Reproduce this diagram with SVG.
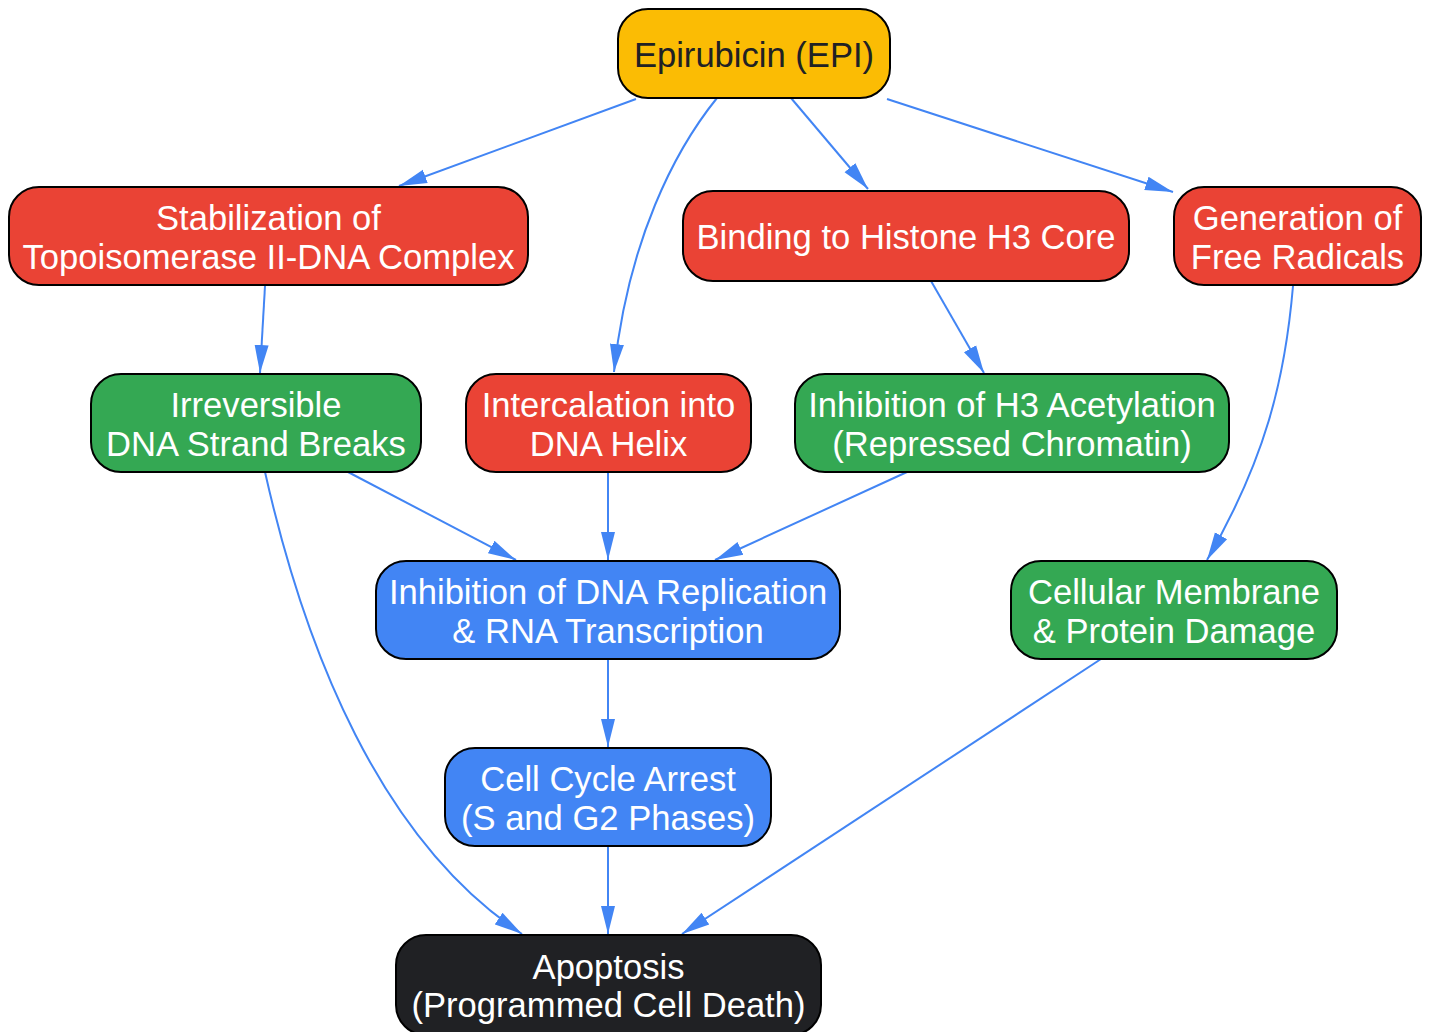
<svg xmlns="http://www.w3.org/2000/svg" width="1430" height="1032" viewBox="0 0 1430 1032">
<style>
.n{stroke:#000;stroke-width:2}
.t{font-family:"Liberation Sans",Arial,sans-serif;font-size:34.6px;text-anchor:middle;fill:#fff}
.dk{fill:#202124}
.e{fill:none;stroke:#4285F4;stroke-width:2;marker-end:url(#ah)}
</style>
<defs>
<marker id="ah" markerUnits="userSpaceOnUse" markerWidth="28" markerHeight="16" refX="28" refY="8" orient="auto">
<path d="M0,1 L28,8 L0,15 z" fill="#4285F4"/>
</marker>
</defs>
<rect width="1430" height="1032" fill="#fff"/>
<g id="connectors">
<path class="e" d="M636,99 L399,186"/>
<path class="e" d="M717,98 C675,150 628,240 614,372"/>
<path class="e" d="M791,98 L868,189"/>
<path class="e" d="M887,99 L1173,192"/>
<path class="e" d="M265,286 L260,373"/>
<path class="e" d="M931,281 L984,373"/>
<path class="e" d="M1293,286 C1285,380 1265,460 1207,560"/>
<path class="e" d="M348,472 L516,560"/>
<path class="e" d="M608,472 L608,560"/>
<path class="e" d="M907,472 L715,560"/>
<path class="e" d="M265,472 C305,650 380,840 522,934"/>
<path class="e" d="M608,659 L608,747"/>
<path class="e" d="M608,846 L608,934"/>
<path class="e" d="M1101,659 L682,934"/>
</g>
<g id="epi">
<rect class="n" x="618" y="9" width="272" height="89" rx="30" fill="#FBBC04"/>
<text class="t dk" x="754" y="67">Epirubicin (EPI)</text>
</g>
<g id="topo">
<rect class="n" x="9" y="187" width="519" height="98" rx="30" fill="#EA4335"/>
<text class="t" x="268.5" y="229.5">Stabilization of</text>
<text class="t" x="268.5" y="269">Topoisomerase II-DNA Complex</text>
</g>
<g id="histone">
<rect class="n" x="683" y="191" width="446" height="90" rx="30" fill="#EA4335"/>
<text class="t" x="906" y="249">Binding to Histone H3 Core</text>
</g>
<g id="radicals">
<rect class="n" x="1174" y="187" width="247" height="98" rx="30" fill="#EA4335"/>
<text class="t" x="1297.5" y="229.5">Generation of</text>
<text class="t" x="1297.5" y="269">Free Radicals</text>
</g>
<g id="breaks">
<rect class="n" x="91" y="374" width="330" height="98" rx="30" fill="#34A853"/>
<text class="t" x="256" y="416.5">Irreversible</text>
<text class="t" x="256" y="456">DNA Strand Breaks</text>
</g>
<g id="intercalation">
<rect class="n" x="466" y="374" width="285" height="98" rx="30" fill="#EA4335"/>
<text class="t" x="608.5" y="416.5">Intercalation into</text>
<text class="t" x="608.5" y="456">DNA Helix</text>
</g>
<g id="acetylation">
<rect class="n" x="795" y="374" width="434" height="98" rx="30" fill="#34A853"/>
<text class="t" x="1012" y="416.5">Inhibition of H3 Acetylation</text>
<text class="t" x="1012" y="456">(Repressed Chromatin)</text>
</g>
<g id="replication">
<rect class="n" x="376" y="561" width="464" height="98" rx="30" fill="#4285F4"/>
<text class="t" x="608" y="603.5">Inhibition of DNA Replication</text>
<text class="t" x="608" y="643">&amp; RNA Transcription</text>
</g>
<g id="membrane">
<rect class="n" x="1011" y="561" width="326" height="98" rx="30" fill="#34A853"/>
<text class="t" x="1174" y="603.5">Cellular Membrane</text>
<text class="t" x="1174" y="643">&amp; Protein Damage</text>
</g>
<g id="cellcycle">
<rect class="n" x="445" y="748" width="326" height="98" rx="30" fill="#4285F4"/>
<text class="t" x="608" y="790.5">Cell Cycle Arrest</text>
<text class="t" x="608" y="830">(S and G2 Phases)</text>
</g>
<g id="apoptosis">
<rect class="n" x="396" y="935" width="425" height="100" rx="30" fill="#202124"/>
<text class="t" x="608.5" y="978.5">Apoptosis</text>
<text class="t" x="608.5" y="1017">(Programmed Cell Death)</text>
</g>
</svg>
